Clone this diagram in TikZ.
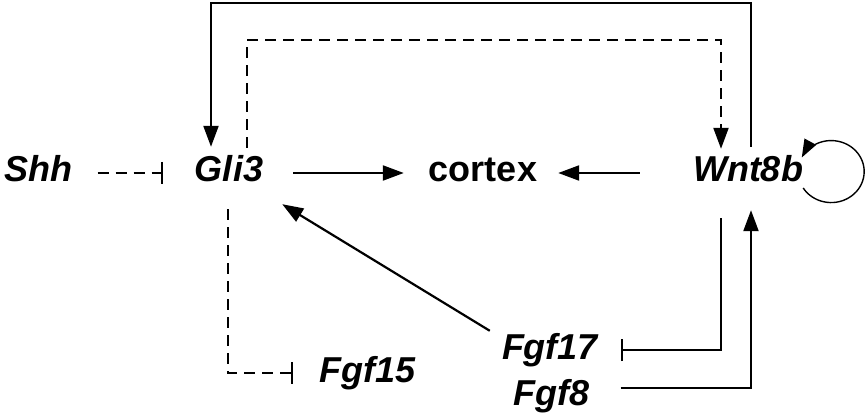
\documentclass[tikz,border=0pt]{standalone}
\usepackage{fontspec}
\setmainfont{Liberation Sans}
\usetikzlibrary{arrows.meta}
\tikzset{
  gene/.style={font=\bfseries\itshape\fontsize{36}{36}\selectfont, inner sep=0pt, text height=26pt, text depth=8pt},
  word/.style={font=\bfseries\fontsize{36}{36}\selectfont, inner sep=0pt, text height=26pt, text depth=8pt},
  act/.style={line width=2.2pt, -{Triangle[length=21pt,width=15pt]}},
  inh/.style={line width=2.2pt, -{Bar[width=22pt,line width=2.2pt]}},
  dsh/.style={dash pattern=on 11pt off 7pt},
  selfloop/.style={line width=1.4pt, -{Triangle[length=18pt,width=13pt]}}
}
\begin{document}
\begin{tikzpicture}[x=1pt,y=-1pt]
\useasboundingbox (0,0) rectangle (867,414);
\node[gene] (shh) at (38.5,173) {Shh};
\node[gene] (gli3) at (229,173) {Gli3};
\node[word] (cortex) at (483,173) {cortex};
\node[gene] (wnt) at (748,173) {Wnt8b};
\node[gene] (fgf15) at (367.5,373) {Fgf15};
\node[gene] (fgf17) at (550,350) {Fgf17};
\node[gene] (fgf8) at (551.5,396) {Fgf8};
\coordinate (top) at (480,3);
\coordinate (dtop) at (480,40);

% Shh -| Gli3
\draw[inh,dsh,shorten <=25pt,shorten >=32pt] (shh) -- (gli3);
% Gli3 -> cortex
\draw[act,shorten <=30pt,shorten >=25pt] (gli3) -- (cortex);
% Wnt8b -> cortex
\draw[act,shorten <=53pt,shorten >=21pt] (wnt) -- (cortex);
% Wnt8b -> Gli3 over the top
\draw[act] ([xshift=3pt,yshift=9pt]wnt.north) |- (top) -| ([xshift=-18pt,yshift=9pt]gli3.north);
% Gli3 --> Wnt8b dashed
\draw[act,dsh] ([xshift=18pt,yshift=8pt]gli3.north) |- (dtop) -| ([xshift=-27pt,yshift=7pt]wnt.north);
% Gli3 --| Fgf15
\draw[inh,dsh,shorten >=26pt] ([xshift=-1pt,yshift=-19pt]gli3.south) |- (fgf15);
% Fgf17 -> Gli3
\draw[act] ([xshift=-12pt,yshift=2pt]fgf17.north west) -- ([xshift=19pt,yshift=-14pt]gli3.south east);
% Wnt8b -| Fgf17
\draw[inh,shorten >=23pt] ([xshift=-27pt,yshift=-28pt]wnt.south) |- (fgf17);
% Fgf8 -> Wnt8b
\draw[act] ([xshift=31pt,yshift=8pt]fgf8.east) -| ([xshift=3pt,yshift=-20pt]wnt.south);
% self loop
\draw[selfloop] ([yshift=-15pt]wnt.east) arc[start angle=148, end angle=-153, x radius=33, y radius=31];
\end{tikzpicture}
\end{document}
